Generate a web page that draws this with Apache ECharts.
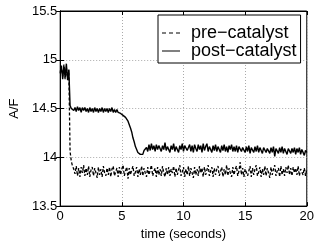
<!DOCTYPE html>
<html>
<head>
<meta charset="utf-8">
<script src="https://cdn.jsdelivr.net/npm/echarts@6/dist/echarts.min.js"></script>
<style>
  html, body { margin: 0; padding: 0; background: #fff; }
  #chart { width: 317px; height: 246px; }
</style>
</head>
<body>
<div id="chart"></div>
<script>
// sampled every 0.1 s, 0..20 s
const SAMPLE_STEP = 0.1

const preCatalyst = [
  14.88, 14.91, 14.83, 14.95, 14.80, 14.92, 14.81, 14.89,
  14.06, 13.96, 13.91, 13.88,
  13.83, 13.91, 13.81, 13.89, 13.80, 13.90, 13.84, 13.92, 13.81,
  13.89, 13.82, 13.91, 13.80, 13.87, 13.90, 13.81, 13.89, 13.84, 13.79,
  13.90, 13.82, 13.88, 13.80, 13.91, 13.84, 13.81, 13.89, 13.82, 13.90,
  13.80, 13.88, 13.91, 13.81, 13.85, 13.89, 13.80, 13.90, 13.82, 13.88,
  13.92, 13.81, 13.86, 13.90, 13.78, 13.89, 13.82, 13.87, 13.91, 13.81,
  13.85, 13.90, 13.80, 13.88, 13.82, 13.91, 13.81, 13.89, 13.84, 13.80,
  13.90, 13.82, 13.87, 13.92, 13.81, 13.86, 13.89, 13.80, 13.90, 13.82,
  13.88, 13.81, 13.91, 13.84, 13.80, 13.89, 13.82, 13.90, 13.81, 13.88,
  13.84, 13.91, 13.80, 13.89, 13.82, 13.87, 13.92, 13.81, 13.85, 13.90,
  13.80, 13.88, 13.82, 13.91, 13.81, 13.89, 13.84, 13.79, 13.90, 13.82,
  13.88, 13.81, 13.91, 13.84, 13.89, 13.80, 13.90, 13.82, 13.87, 13.92,
  13.81, 13.86, 13.90, 13.80, 13.89, 13.82, 13.88, 13.91, 13.81, 13.85,
  13.90, 13.80, 13.88, 13.82, 13.92, 13.81, 13.89, 13.84, 13.80, 13.90,
  13.82, 13.88, 13.91, 13.81, 13.86, 13.95, 13.82, 13.89, 13.80, 13.88,
  13.90, 13.81, 13.86, 13.91, 13.80, 13.89, 13.82, 13.88, 13.92, 13.81,
  13.85, 13.90, 13.80, 13.88, 13.82, 13.91, 13.81, 13.89, 13.84, 13.79,
  13.90, 13.82, 13.88, 13.92, 13.81, 13.86, 13.89, 13.80, 13.91, 13.82,
  13.88, 13.81, 13.90, 13.84, 13.92, 13.82, 13.89, 13.81, 13.90, 13.84,
  13.89, 13.82, 13.91, 13.81, 13.88, 13.90, 13.82, 13.89, 13.81, 13.88
]

const postCatalyst = [
  14.86, 14.94, 14.80, 14.93, 14.82, 14.96, 14.79, 14.90,
  14.53, 14.50,
  14.52, 14.48, 14.51, 14.47, 14.52, 14.48, 14.51, 14.46, 14.51, 14.48,
  14.51, 14.47, 14.50, 14.46, 14.51, 14.47, 14.50, 14.46, 14.51, 14.47,
  14.50, 14.46, 14.50, 14.47, 14.51, 14.46, 14.50, 14.47, 14.50, 14.46,
  14.50, 14.47, 14.51, 14.46, 14.49, 14.46, 14.49, 14.46, 14.47, 14.45,
  14.46, 14.43, 14.44, 14.41, 14.40, 14.37, 14.35, 14.30, 14.26, 14.20,
  14.16, 14.11, 14.08, 14.05, 14.06, 14.03, 14.05, 14.03, 14.07, 14.05,
  14.10, 14.06, 14.13, 14.07, 14.14, 14.08, 14.12, 14.06, 14.13, 14.08,
  14.12,
  14.14, 14.06, 14.12, 14.08, 14.15, 14.07, 14.11, 14.13, 14.05, 14.12,
  14.08, 14.14, 14.06, 14.11, 14.13, 14.05, 14.12, 14.08, 14.14, 14.06,
  14.12, 14.14, 14.07, 14.10, 14.13, 14.06, 14.12, 14.05, 14.13, 14.09,
  14.06, 14.13, 14.08, 14.12, 14.05, 14.14, 14.07, 14.11, 14.14, 14.06,
  14.11, 14.13, 14.05, 14.12, 14.07, 14.13, 14.06, 14.11, 14.12, 14.05,
  14.12, 14.07, 14.13, 14.06, 14.11, 14.05, 14.12, 14.08, 14.13, 14.06,
  14.11, 14.06, 14.12, 14.05, 14.11, 14.13, 14.06, 14.10, 14.12, 14.05,
  14.11, 14.06, 14.12, 14.04, 14.10, 14.12, 14.05, 14.11, 14.06, 14.12,
  14.05, 14.10, 14.11, 14.04, 14.10, 14.12, 14.05, 14.09, 14.11, 14.04,
  14.10, 14.05, 14.11, 14.01, 14.09, 14.11, 14.04, 14.10, 14.05, 14.11,
  14.04, 14.09, 14.10, 14.03, 14.09, 14.11, 14.04, 14.09, 14.05, 14.10,
  14.03, 14.09, 14.05, 14.10, 14.03, 14.08, 14.09, 14.02, 14.07, 14.05
]

const seriesNames = ['pre\u2212catalyst', 'post\u2212catalyst']
const xTicks = [0, 5, 10, 15, 20]
const yTicks = [13.5, 14, 14.5, 15, 15.5]

const FONT = '"Liberation Sans", Arial, Helvetica, sans-serif'

const toPairs = (vals) => vals.map((v, i) => [+(i * SAMPLE_STEP).toFixed(1), v])

const chart = echarts.init(document.getElementById('chart'), null, { renderer: 'canvas' })

const baseAxisLine = { show: true, lineStyle: { color: '#000', width: 1 } }
const tickStyle = { show: true, inside: true, length: 4, lineStyle: { color: '#000', width: 1 } }

// legend samples: dashed and solid strokes
const DASH_ICON = 'path://M0,0h4v1h-4z M7,0h4v1h-4z M14,0h4v1h-4z'
const SOLID_ICON = 'path://M0,0h18v1h-18z'

chart.setOption({
  backgroundColor: '#fff',
  animation: false,
  grid: {
    left: 54, top: 11, right: 5, bottom: 33,
    show: true, borderColor: '#000', borderWidth: 1
  },
  legend: {
    data: [
      { name: seriesNames[0], icon: DASH_ICON },
      { name: seriesNames[1], icon: SOLID_ICON }
    ],
    orient: 'vertical',
    left: 158,
    top: 15,
    backgroundColor: '#fff',
    borderColor: '#000',
    borderWidth: 1,
    padding: [9, 4, 3, 4],
    itemGap: 0,
    itemWidth: 18,
    itemHeight: 1,
    itemStyle: { color: '#000', borderWidth: 0 },
    textStyle: { fontFamily: FONT, fontSize: 18, color: '#000', lineHeight: 17, padding: [0, 0, 0, 6] }
  },
  xAxis: [
    {
      type: 'value',
      min: xTicks[0], max: xTicks[xTicks.length - 1], interval: 5,
      position: 'bottom',
      axisLine: baseAxisLine,
      axisTick: tickStyle,
      axisLabel: { color: '#000', fontFamily: FONT, fontSize: 13, margin: 4, showMaxLabel: true },
      splitLine: { show: true, lineStyle: { color: '#aaa', type: [1, 2], width: 1 } },
      name: 'time (seconds)',
      nameLocation: 'middle',
      nameGap: 21,
      nameTextStyle: { color: '#000', fontFamily: FONT, fontSize: 13 }
    },
    {
      type: 'value',
      min: xTicks[0], max: xTicks[xTicks.length - 1], interval: 5,
      position: 'top',
      axisLine: baseAxisLine,
      axisTick: tickStyle,
      axisLabel: { show: false },
      splitLine: { show: false }
    }
  ],
  yAxis: [
    {
      type: 'value',
      min: yTicks[0], max: yTicks[yTicks.length - 1], interval: 0.5,
      position: 'left',
      axisLine: baseAxisLine,
      axisTick: tickStyle,
      axisLabel: { color: '#000', fontFamily: FONT, fontSize: 13, margin: 3 },
      splitLine: { show: true, lineStyle: { color: '#aaa', type: [1, 2], width: 1 } },
      name: 'A/F',
      nameLocation: 'middle',
      nameGap: 33,
      nameTextStyle: { color: '#000', fontFamily: FONT, fontSize: 13 }
    },
    {
      type: 'value',
      min: yTicks[0], max: yTicks[yTicks.length - 1], interval: 0.5,
      position: 'right',
      axisLine: baseAxisLine,
      axisTick: tickStyle,
      axisLabel: { show: false },
      splitLine: { show: false }
    }
  ],
  series: [
    {
      name: seriesNames[0],
      type: 'line',
      data: toPairs(preCatalyst),
      symbol: 'none',
      lineStyle: { color: '#000', width: 1.3, type: [3, 2] },
      itemStyle: { color: '#000' },
      z: 3
    },
    {
      name: seriesNames[1],
      type: 'line',
      data: toPairs(postCatalyst),
      symbol: 'none',
      lineStyle: { color: '#000', width: 1.4 },
      itemStyle: { color: '#000' },
      z: 4
    }
  ]
})
</script>
</body>
</html>
